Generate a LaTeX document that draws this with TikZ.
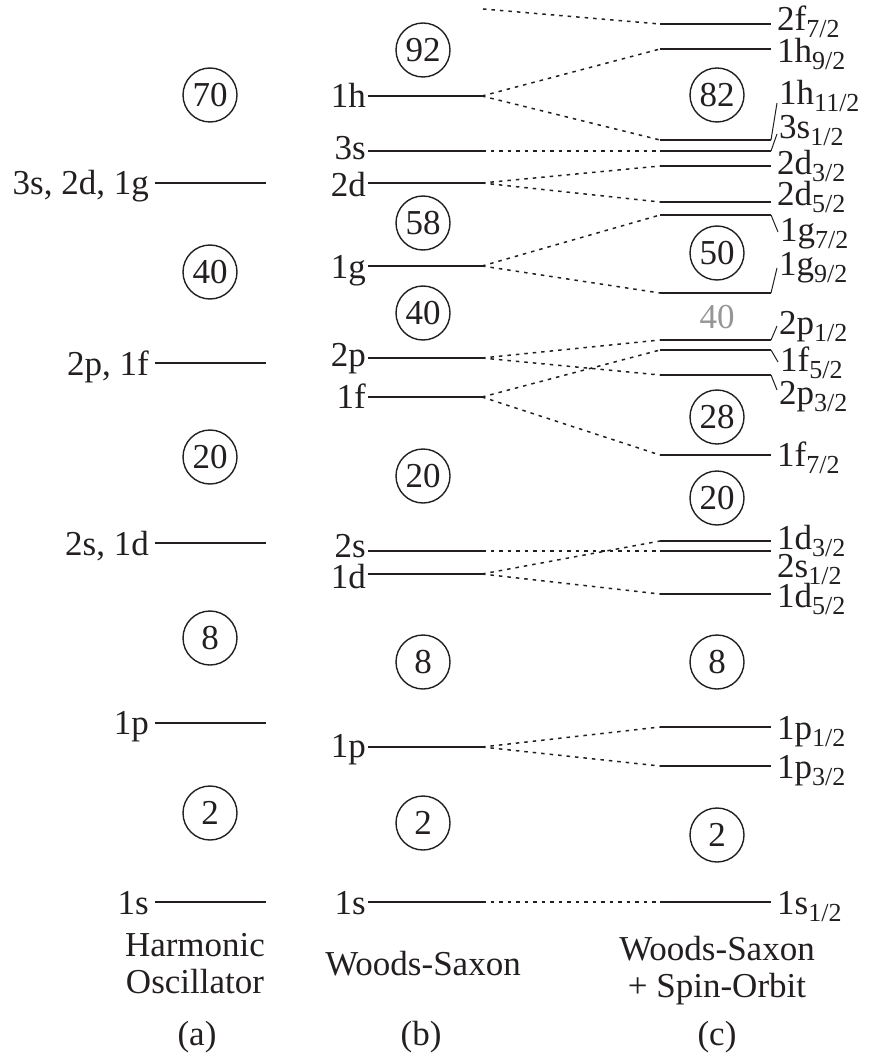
\documentclass[tikz,border=0pt]{standalone}
\usepackage{fontspec}
\setmainfont{Liberation Serif}
\definecolor{ink}{RGB}{35,31,32}
\definecolor{faint}{RGB}{150,150,150}
% one energy level: two named end points and the solid bar between them
\newcommand\mklevel[4]{%
  \coordinate (#1L) at (#2,#4);
  \coordinate (#1R) at (#3,#4);
  \draw[level] (#1L) -- (#1R);}
% lowered, smaller j value after a level name
\newcommand\jsub[1]{\raisebox{-7pt}{\fontsize{26}{26}\selectfont #1}}
\tikzset{
  every node/.style={font=\fontsize{35}{42}\selectfont, text=ink, inner sep=0pt},
  level/.style={draw=ink, line width=2pt},
  split/.style={draw=ink, line width=1.5pt, dash pattern=on 3.5pt off 5pt},
  tick/.style={draw=ink, line width=1pt},
  magic/.style={circle, draw=ink, line width=1.4pt, minimum size=54pt, inner sep=0pt},
  lname/.style={anchor=base east},
  jname/.style={anchor=base west},
  caption/.style={anchor=base},
}
\begin{document}
\begin{tikzpicture}[x=1pt, y=-1pt]
\useasboundingbox (0,0) rectangle (882,1059);

% ---------------- (a) harmonic oscillator ----------------
\mklevel{a3}{155}{266}{183}
\mklevel{a2}{155}{266}{363}
\mklevel{a1}{155}{266}{543}
\mklevel{ap}{155}{266}{723}
\mklevel{as}{155}{266}{902}
\node[lname] (ta3) at (149,195) {3s, 2d, 1g};
\node[lname] (ta2) at (149,375) {2p, 1f};
\node[lname] (ta1) at (149,555) {2s, 1d};
\node[lname] (tap) at (149,734) {1p};
\node[lname] (tas) at (149,914) {1s};
\node[magic] (ma70) at (210,95) {70};
\node[magic] (ma40) at (210,272) {40};
\node[magic] (ma20) at (210,457) {20};
\node[magic] (ma8)  at (210,638) {8};
\node[magic] (ma2)  at (210,813) {2};

% ---------------- (b) Woods-Saxon ----------------
\mklevel{b1h}{368}{482}{96}
\mklevel{b3s}{368}{482}{151}
\mklevel{b2d}{368}{482}{183}
\mklevel{b1g}{368}{482}{266}
\mklevel{b2p}{368}{482}{358}
\mklevel{b1f}{368}{482}{397}
\mklevel{b2s}{368}{482}{551}
\mklevel{b1d}{368}{482}{574}
\mklevel{b1p}{368}{482}{747}
\mklevel{b1s}{368}{482}{902}
\node[lname] (tb1h) at (366,108) {1h};
\node[lname] (tb3s) at (366,160) {3s};
\node[lname] (tb2d) at (366,197) {2d};
\node[lname] (tb1g) at (366,278) {1g};
\node[lname] (tb2p) at (366,366) {2p};
\node[lname] (tb1f) at (366,408) {1f};
\node[lname] (tb2s) at (366,557) {2s};
\node[lname] (tb1d) at (366,588) {1d};
\node[lname] (tb1p) at (366,757) {1p};
\node[lname] (tb1s) at (366,914) {1s};
\node[magic] (mb92) at (423,50)  {92};
\node[magic] (mb58) at (423,223) {58};
\node[magic] (mb40) at (423,313) {40};
\node[magic] (mb20) at (423,476) {20};
\node[magic] (mb8)  at (423,662) {8};
\node[magic] (mb2)  at (423,823) {2};

% ---------------- (c) Woods-Saxon + spin-orbit ----------------
\mklevel{c2f7}{660}{771}{24}
\mklevel{c1h9}{660}{771}{49}
\mklevel{c1h11}{660}{771}{140}
\mklevel{c3s1}{660}{771}{151}
\mklevel{c2d3}{660}{771}{166}
\mklevel{c2d5}{660}{771}{202}
\mklevel{c1g7}{660}{771}{215}
\mklevel{c1g9}{660}{771}{293}
\mklevel{c2p1}{660}{771}{340}
\mklevel{c1f5}{660}{771}{350}
\mklevel{c2p3}{660}{771}{375}
\mklevel{c1f7}{660}{771}{455}
\mklevel{c1d3}{660}{771}{541}
\mklevel{c2s1}{660}{771}{551}
\mklevel{c1d5}{660}{771}{594}
\mklevel{c1p1}{660}{771}{727}
\mklevel{c1p3}{660}{771}{766}
\mklevel{c1s1}{660}{771}{902}

% short leaders to labels that sit away from their level
\coordinate (k1h11) at (777,103);
\coordinate (k3s1)  at (777,134);
\coordinate (k1g7)  at (778,232);
\coordinate (k1g9)  at (777,268);
\coordinate (k2p1)  at (777,326);
\coordinate (k1f5)  at (778,362);
\coordinate (k2p3)  at (777,390);
\draw[tick] (c1h11R) -- (k1h11);
\draw[tick] (c3s1R) -- (k3s1);
\draw[tick] (c1g7R) -- (k1g7);
\draw[tick] (c1g9R) -- (k1g9);
\draw[tick] (c2p1R) -- (k2p1);
\draw[tick] (c1f5R) -- (k1f5);
\draw[tick] (c2p3R) -- (k2p3);

\node[jname] (tc2f7)  at (777,31)  {2f\jsub{7/2}};
\node[jname] (tc1h9)  at (777,63)  {1h\jsub{9/2}};
\node[jname] (tc1h11) at (779,105) {1h\jsub{11/2}};
\node[jname] (tc3s1)  at (779,139) {3s\jsub{1/2}};
\node[jname] (tc2d3)  at (777,175) {2d\jsub{3/2}};
\node[jname] (tc2d5)  at (777,206) {2d\jsub{5/2}};
\node[jname] (tc1g7)  at (780,241) {1g\jsub{7/2}};
\node[jname] (tc1g9)  at (779,275) {1g\jsub{9/2}};
\node[jname] (tc2p1)  at (779,334) {2p\jsub{1/2}};
\node[jname] (tc1f5)  at (780,371) {1f\jsub{5/2}};
\node[jname] (tc2p3)  at (779,404) {2p\jsub{3/2}};
\node[jname] (tc1f7)  at (777,466) {1f\jsub{7/2}};
\node[jname] (tc1d3)  at (777,549) {1d\jsub{3/2}};
\node[jname] (tc2s1)  at (777,577) {2s\jsub{1/2}};
\node[jname] (tc1d5)  at (777,607) {1d\jsub{5/2}};
\node[jname] (tc1p1)  at (777,739) {1p\jsub{1/2}};
\node[jname] (tc1p3)  at (777,778) {1p\jsub{3/2}};
\node[jname] (tc1s1)  at (777,914) {1s\jsub{1/2}};

\node[magic] (mc82) at (717,95)  {82};
\node[magic] (mc50) at (717,253) {50};
\node[text=faint] (mc40) at (717,317) {40};
\node[magic] (mc28) at (717,417) {28};
\node[magic] (mc20) at (717,498) {20};
\node[magic] (mc8)  at (717,662) {8};
\node[magic] (mc2)  at (717,835) {2};

% ---------------- splitting of the (b) levels ----------------
\coordinate (b2fR) at (483,9);
\draw[split] (b2fR) -- (c2f7L);
\draw[split] (b1hR) -- (c1h9L);
\draw[split] (b1hR) -- (c1h11L);
\draw[split] (b3sR) -- (c3s1L);
\draw[split] (b2dR) -- (c2d3L);
\draw[split] (b2dR) -- (c2d5L);
\draw[split] (b1gR) -- (c1g7L);
\draw[split] (b1gR) -- (c1g9L);
\draw[split] (b2pR) -- (c2p1L);
\draw[split] (b2pR) -- (c2p3L);
\draw[split] (b1fR) -- (c1f5L);
\draw[split] (b1fR) -- (c1f7L);
\draw[split] (b2sR) -- (c2s1L);
\draw[split] (b1dR) -- (c1d3L);
\draw[split] (b1dR) -- (c1d5L);
\draw[split] (b1pR) -- (c1p1L);
\draw[split] (b1pR) -- (c1p3L);
\draw[split] (b1sR) -- (c1s1L);

% ---------------- captions ----------------
\node[caption] (capa1) at (195,956) {Harmonic};
\node[caption] (capa2) at (195,993) {Oscillator};
\node[caption] (capa3) at (197,1045) {(a)};
\node[caption] (capb1) at (423,975) {Woods-Saxon};
\node[caption] (capb3) at (421,1045) {(b)};
\node[caption] (capc1) at (717,960) {Woods-Saxon};
\node[caption] (capc2) at (717,997) {+ Spin-Orbit};
\node[caption] (capc3) at (717,1045) {(c)};
\end{tikzpicture}
\end{document}
